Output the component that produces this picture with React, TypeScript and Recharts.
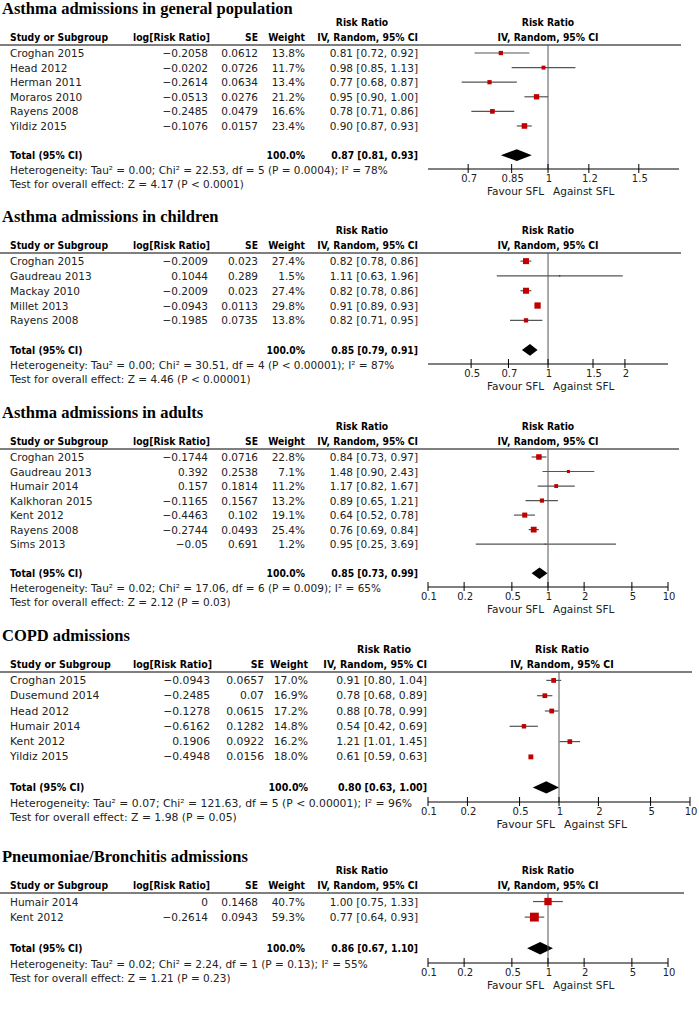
import { ScatterChart, Scatter, XAxis, YAxis, ErrorBar, ReferenceLine, ReferenceArea } from 'recharts'

const FONT = "'DejaVu Sans', Verdana, sans-serif"
const SERIF = "'Liberation Serif', 'Times New Roman', serif"
const INK = '#222'

// Asthma admissions in general population
const gpStudy = ['Croghan 2015', 'Head 2012', 'Herman 2011', 'Moraros 2010', 'Rayens 2008', 'Yildiz 2015']
const gpLogRR = [-0.2058, -0.0202, -0.2614, -0.0513, -0.2485, -0.1076]
const gpSE = [0.0612, 0.0726, 0.0634, 0.0276, 0.0479, 0.0157]
const gpWeight = [13.8, 11.7, 13.4, 21.2, 16.6, 23.4]
const gpRR = [0.81, 0.98, 0.77, 0.95, 0.78, 0.9]
const gpLow = [0.72, 0.85, 0.68, 0.9, 0.71, 0.87]
const gpHigh = [0.92, 1.13, 0.87, 1.0, 0.86, 0.93]
const gpTotal = [0.87, 0.81, 0.93]
const gpTicks = [0.7, 0.85, 1, 1.2, 1.5]

// Asthma admissions in children
const chStudy = ['Croghan 2015', 'Gaudreau 2013', 'Mackay 2010', 'Millet 2013', 'Rayens 2008']
const chLogRR = [-0.2009, 0.1044, -0.2009, -0.0943, -0.1985]
const chSE = [0.023, 0.289, 0.023, 0.0113, 0.0735]
const chWeight = [27.4, 1.5, 27.4, 29.8, 13.8]
const chRR = [0.82, 1.11, 0.82, 0.91, 0.82]
const chLow = [0.78, 0.63, 0.78, 0.89, 0.71]
const chHigh = [0.86, 1.96, 0.86, 0.93, 0.95]
const chTotal = [0.85, 0.79, 0.91]
const chTicks = [0.5, 0.7, 1, 1.5, 2]

// Asthma admissions in adults
const adStudy = ['Croghan 2015', 'Gaudreau 2013', 'Humair 2014', 'Kalkhoran 2015', 'Kent 2012', 'Rayens 2008', 'Sims 2013']
const adLogRR = [-0.1744, 0.392, 0.157, -0.1165, -0.4463, -0.2744, -0.05]
const adSE = [0.0716, 0.2538, 0.1814, 0.1567, 0.102, 0.0493, 0.691]
const adWeight = [22.8, 7.1, 11.2, 13.2, 19.1, 25.4, 1.2]
const adRR = [0.84, 1.48, 1.17, 0.89, 0.64, 0.76, 0.95]
const adLow = [0.73, 0.9, 0.82, 0.65, 0.52, 0.69, 0.25]
const adHigh = [0.97, 2.43, 1.67, 1.21, 0.78, 0.84, 3.69]
const adTotal = [0.85, 0.73, 0.99]

// COPD admissions
const cpStudy = ['Croghan 2015', 'Dusemund 2014', 'Head 2012', 'Humair 2014', 'Kent 2012', 'Yildiz 2015']
const cpLogRR = [-0.0943, -0.2485, -0.1278, -0.6162, 0.1906, -0.4948]
const cpSE = [0.0657, 0.07, 0.0615, 0.1282, 0.0922, 0.0156]
const cpWeight = [17.0, 16.9, 17.2, 14.8, 16.2, 18.0]
const cpRR = [0.91, 0.78, 0.88, 0.54, 1.21, 0.61]
const cpLow = [0.8, 0.68, 0.78, 0.42, 1.01, 0.59]
const cpHigh = [1.04, 0.89, 0.99, 0.69, 1.45, 0.63]
const cpTotal = [0.8, 0.63, 1.0]

// Pneumoniae/Bronchitis admissions
const pnStudy = ['Humair 2014', 'Kent 2012']
const pnLogRR = [0, -0.2614]
const pnSE = [0.1468, 0.0943]
const pnWeight = [40.7, 59.3]
const pnRR = [1.0, 0.77]
const pnLow = [0.75, 0.64]
const pnHigh = [1.33, 0.93]
const pnTotal = [0.86, 0.67, 1.1]

const wideTicks = [0.1, 0.2, 0.5, 1, 2, 5, 10]

const panels = [
  {
    title: 'Asthma admissions in general population',
    study: gpStudy, logRR: gpLogRR, se: gpSE, weight: gpWeight, rr: gpRR, lo: gpLow, hi: gpHigh, total: gpTotal,
    ticks: gpTicks, domain: [0.585, 1.795],
    het: 'Heterogeneity: Tau² = 0.00; Chi² = 22.53, df = 5 (P = 0.0004); I² = 78%',
    test: 'Test for overall effect: Z = 4.17 (P < 0.0001)',
  },
  {
    title: 'Asthma admissions in children',
    study: chStudy, logRR: chLogRR, se: chSE, weight: chWeight, rr: chRR, lo: chLow, hi: chHigh, total: chTotal,
    ticks: chTicks, domain: [0.339, 2.948],
    het: 'Heterogeneity: Tau² = 0.00; Chi² = 30.51, df = 4 (P < 0.00001); I² = 87%',
    test: 'Test for overall effect: Z = 4.46 (P < 0.00001)',
  },
  {
    title: 'Asthma admissions in adults',
    study: adStudy, logRR: adLogRR, se: adSE, weight: adWeight, rr: adRR, lo: adLow, hi: adHigh, total: adTotal,
    ticks: wideTicks, domain: [0.1, 10],
    het: 'Heterogeneity: Tau² = 0.02; Chi² = 17.06, df = 6 (P = 0.009); I² = 65%',
    test: 'Test for overall effect: Z = 2.12 (P = 0.03)',
  },
  {
    title: 'COPD admissions',
    study: cpStudy, logRR: cpLogRR, se: cpSE, weight: cpWeight, rr: cpRR, lo: cpLow, hi: cpHigh, total: cpTotal,
    ticks: wideTicks, domain: [0.1, 10],
    het: 'Heterogeneity: Tau² = 0.07; Chi² = 121.63, df = 5 (P < 0.00001); I² = 96%',
    test: 'Test for overall effect: Z = 1.98 (P = 0.05)',
  },
  {
    title: 'Pneumoniae/Bronchitis admissions',
    study: pnStudy, logRR: pnLogRR, se: pnSE, weight: pnWeight, rr: pnRR, lo: pnLow, hi: pnHigh, total: pnTotal,
    ticks: wideTicks, domain: [0.1, 10],
    het: 'Heterogeneity: Tau² = 0.02; Chi² = 2.24, df = 1 (P = 0.13); I² = 55%',
    test: 'Test for overall effect: Z = 1.21 (P = 0.23)',
  },
]

// layout of each block on the page
const baseCols = { log: 208, se: 258, w: 305, ci: 418, rrHead: 362 }
const layouts = [
  { lineY: 45, axisY: 169, plotL: 428, plotR: 679, lineR: 681, cols: baseCols, hdrC: 548, fs: 10.5 },
  { lineY: 253, axisY: 364, plotL: 428, plotR: 668, lineR: 681, cols: baseCols, hdrC: 548, fs: 10.5 },
  { lineY: 449, axisY: 587, plotL: 428, plotR: 668, lineR: 679, cols: baseCols, hdrC: 548, fs: 10.5 },
  { lineY: 672, axisY: 802, plotL: 428, plotR: 690, lineR: 692, cols: { log: 210, se: 264, w: 308, ci: 427, rrHead: 384 }, hdrC: 562, fs: 10.8 },
  { lineY: 893, axisY: 963, plotL: 428, plotR: 668, lineR: 684, cols: baseCols, hdrC: 548, fs: 10.5 },
]

const num = (v: number) => String(v).replace('-', '\u2212')
const ci = (r: number, l: number, h: number) => `${r.toFixed(2)} [${l.toFixed(2)}, ${h.toFixed(2)}]`

// bold text is squeezed a little: the source uses a narrow bold face
function Txt({ x, y, anchor = 'start', bold = false, size = 10.5, fill = INK, children }: any) {
  const sx = bold ? 0.88 : 1
  return (
    <g transform={`translate(${x},${y}) scale(${sx},1)`}>
      <text x={0} y={0} textAnchor={anchor} dominantBaseline="central" fontSize={size}
        fontWeight={bold ? 'bold' : 'normal'} fontFamily={FONT} fill={fill}>{children}</text>
    </g>
  )
}

function Panel({ d, L }: any) {
  const n = d.study.length
  const totalRow = n + 2
  const rows = d.study.map((_: string, i: number) => ({
    row: i + 1,
    rr: d.rr[i],
    err: [d.rr[i] - d.lo[i], d.hi[i] - d.rr[i]],
    w: d.weight[i],
  }))
  const M = 10
  const height = L.axisY - L.lineY + M + 34
  const c = L.cols
  const x1 = L.plotL + (L.plotR - L.plotL) * Math.log(1 / d.domain[0]) / Math.log(d.domain[1] / d.domain[0])

  const rowTick = (p: any) => {
    const v = p.payload.value
    const y = p.y
    if (v === totalRow) {
      return (
        <g>
          <Txt x={10} y={y} bold size={L.fs} fill="#000">Total (95% CI)</Txt>
          <Txt x={c.w} y={y} anchor="end" bold size={L.fs} fill="#000">100.0%</Txt>
          <Txt x={c.ci} y={y} anchor="end" bold size={L.fs} fill="#000">{ci(d.total[0], d.total[1], d.total[2])}</Txt>
        </g>
      )
    }
    const i = v - 1
    return (
      <g>
        <Txt x={10} y={y} size={L.fs}>{d.study[i]}</Txt>
        <Txt x={c.log} y={y} anchor="end" size={L.fs}>{num(d.logRR[i])}</Txt>
        <Txt x={c.se} y={y} anchor="end" size={L.fs}>{num(d.se[i])}</Txt>
        <Txt x={c.w} y={y} anchor="end" size={L.fs}>{d.weight[i].toFixed(1)}%</Txt>
        <Txt x={c.ci} y={y} anchor="end" size={L.fs}>{ci(d.rr[i], d.lo[i], d.hi[i])}</Txt>
      </g>
    )
  }

  const axisTick = (p: any) => (
    <g>
      <line x1={p.x} x2={p.x} y1={p.y - 5} y2={p.y + 4} stroke="#000" strokeWidth={1} />
      <Txt x={p.x + 1} y={p.y + 9} anchor="middle" size={10}>{String(p.payload.value)}</Txt>
    </g>
  )

  const diamond = (p: any) => {
    const { x, y, width, height: hh } = p
    const cx = x + width * Math.log(d.total[0] / d.total[1]) / Math.log(d.total[2] / d.total[1])
    return <polygon points={`${x},${y + hh / 2} ${cx},${y} ${x + width},${y + hh / 2} ${cx},${y + hh}`} fill="#000" />
  }

  const box = (p: any) => {
    const s = 1.15 * Math.sqrt(p.payload.w)
    return <rect x={p.cx - s / 2} y={p.cy - s / 2} width={s} height={s} fill="#c00000" />
  }

  return (
    <>
      <div style={{ position: 'absolute', left: 0, top: L.lineY - M }}>
        <ScatterChart width={699} height={height} margin={{ top: M, right: 699 - L.plotR, bottom: 0, left: 0 }}>
          <XAxis type="number" dataKey="rr" scale="log" domain={d.domain} allowDataOverflow ticks={d.ticks}
            interval={0} tickLine={false} tickSize={0} tickMargin={0} axisLine={{ stroke: '#000' }}
            height={34} tick={axisTick} />
          <YAxis type="number" dataKey="row" domain={[0.45, n + 2.95]} reversed allowDataOverflow
            ticks={[...rows.map((r: any) => r.row), totalRow]} interval={0} axisLine={false} tickLine={false}
            width={L.plotL} tick={rowTick} />
          <ReferenceLine x={1} stroke="#555" strokeWidth={1} />
          <ReferenceArea x1={d.total[1]} x2={d.total[2]} y1={totalRow - 0.4} y2={totalRow + 0.4}
            ifOverflow="visible" shape={diamond} />
          <Scatter data={rows} shape={box} isAnimationActive={false}>
            <ErrorBar dataKey="err" direction="x" width={0} stroke="#555" strokeWidth={1.2} isAnimationActive={false} />
          </Scatter>
        </ScatterChart>
      </div>
      <svg width={699} height={1013} style={{ position: 'absolute', left: 0, top: 0, pointerEvents: 'none' }}>
        <text x={2} y={L.lineY - 31} fontFamily={SERIF} fontWeight="bold" fontSize={16.5} fill="#000">{d.title}</text>
        <Txt x={c.rrHead} y={L.lineY - 22.5} anchor="middle" bold size={L.fs} fill="#000">Risk Ratio</Txt>
        <Txt x={L.hdrC} y={L.lineY - 22.5} anchor="middle" bold size={L.fs} fill="#000">Risk Ratio</Txt>
        <Txt x={10} y={L.lineY - 8} bold size={L.fs} fill="#000">Study or Subgroup</Txt>
        <Txt x={c.log + 2} y={L.lineY - 8} anchor="end" bold size={L.fs} fill="#000">log[Risk Ratio]</Txt>
        <Txt x={c.se} y={L.lineY - 8} anchor="end" bold size={L.fs} fill="#000">SE</Txt>
        <Txt x={c.w} y={L.lineY - 8} anchor="end" bold size={L.fs} fill="#000">Weight</Txt>
        <Txt x={c.ci} y={L.lineY - 8} anchor="end" bold size={L.fs} fill="#000">IV, Random, 95% CI</Txt>
        <Txt x={L.hdrC} y={L.lineY - 8} anchor="middle" bold size={L.fs} fill="#000">IV, Random, 95% CI</Txt>
        <line x1={0} x2={L.lineR} y1={L.lineY} y2={L.lineY} stroke="#555" strokeWidth={1.3} />
        <Txt x={10} y={L.axisY + 1} size={L.fs}>{d.het}</Txt>
        <Txt x={10} y={L.axisY + 15} size={L.fs}>{d.test}</Txt>
        <Txt x={x1 - 4} y={L.axisY + 22} anchor="end" size={L.fs}>Favour SFL</Txt>
        <Txt x={x1 + 5} y={L.axisY + 22} size={L.fs}>Against SFL</Txt>
      </svg>
    </>
  )
}

export default function App() {
  return (
    <div style={{ position: 'absolute', left: 0, top: 0, width: 699, height: 1013, background: '#fff', overflow: 'hidden' }}>
      {panels.map((d, i) => <Panel key={d.title} d={d} L={layouts[i]} />)}
    </div>
  )
}
